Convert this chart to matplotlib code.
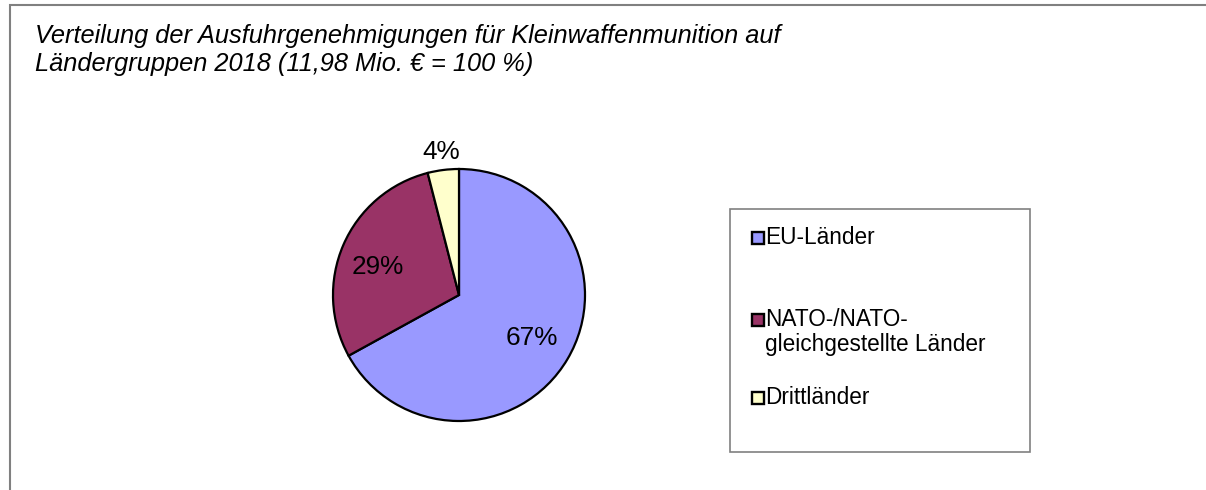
import matplotlib
matplotlib.use("Agg")
import numpy as np
import matplotlib.pyplot as plt
from matplotlib.patches import Rectangle

# Daten
categories = ['EU-Länder', 'NATO-/NATO-\ngleichgestellte Länder', 'Drittländer']
shares = [67, 29, 4]
colors = ['#9999FF', '#993366', '#FFFFCC']
title = ('Verteilung der Ausfuhrgenehmigungen für Kleinwaffenmunition auf\n'
         'Ländergruppen 2018 (11,98 Mio. € = 100 %)')

plt.rcParams['font.family'] = ['Liberation Sans', 'DejaVu Sans']

W, H = 1206, 490
fig = plt.figure(figsize=(W / 100, H / 100), dpi=100)

# äußerer Rahmen
fig.add_artist(Rectangle((10 / W, -0.05), 1.2, (H - 5) / H + 0.05,
                         transform=fig.transFigure, fill=False,
                         edgecolor='#808080', linewidth=1.5))

fig.text(35 / W, 1 - 24 / H, title, fontsize=18.3, style='italic',
         va='top', ha='left', linespacing=1.2)

# Kreisdiagramm
cx, cy, r = 459, 295, 126
ax = fig.add_axes([(cx - r) / W, (H - cy - r) / H, 2 * r / W, 2 * r / H])
wedges, _ = ax.pie(shares, colors=colors, startangle=90, counterclock=False,
                   wedgeprops=dict(edgecolor='black', linewidth=1.6))
ax.set_xlim(-1, 1)
ax.set_ylim(-1, 1)
ax.axis('off')

label_dist = [0.67, 0.68, 1.14]
label_shift = [0, 4, 0]
for w, val, d, s in zip(wedges, shares, label_dist, label_shift):
    ang = np.deg2rad((w.theta1 + w.theta2) / 2 + s)
    ax.text(d * np.cos(ang), d * np.sin(ang), f'{val}%', fontsize=18.8,
            ha='center', va='center', clip_on=False)

# Legende (Excel-Stil: Marker an der ersten Zeile)
lx0, ly0, lx1, ly1 = 730, 209, 1030, 452
fig.add_artist(Rectangle((lx0 / W, 1 - ly1 / H), (lx1 - lx0) / W, (ly1 - ly0) / H,
                         transform=fig.transFigure, fill=False,
                         edgecolor='#808080', linewidth=1.2))
entry_y = [238, 320, 398]
msize = 11.5
for lab, c, y in zip(categories, colors, entry_y):
    fig.add_artist(Rectangle((752 / W, 1 - (y + msize / 2) / H), msize / W, msize / H,
                             transform=fig.transFigure, facecolor=c,
                             edgecolor='black', linewidth=1.7))
    fig.text(765 / W, 1 - (y - 12) / H, lab, fontsize=16.3, ha='left', va='top',
             linespacing=1.1)

fig.savefig('out.png', dpi=100)
